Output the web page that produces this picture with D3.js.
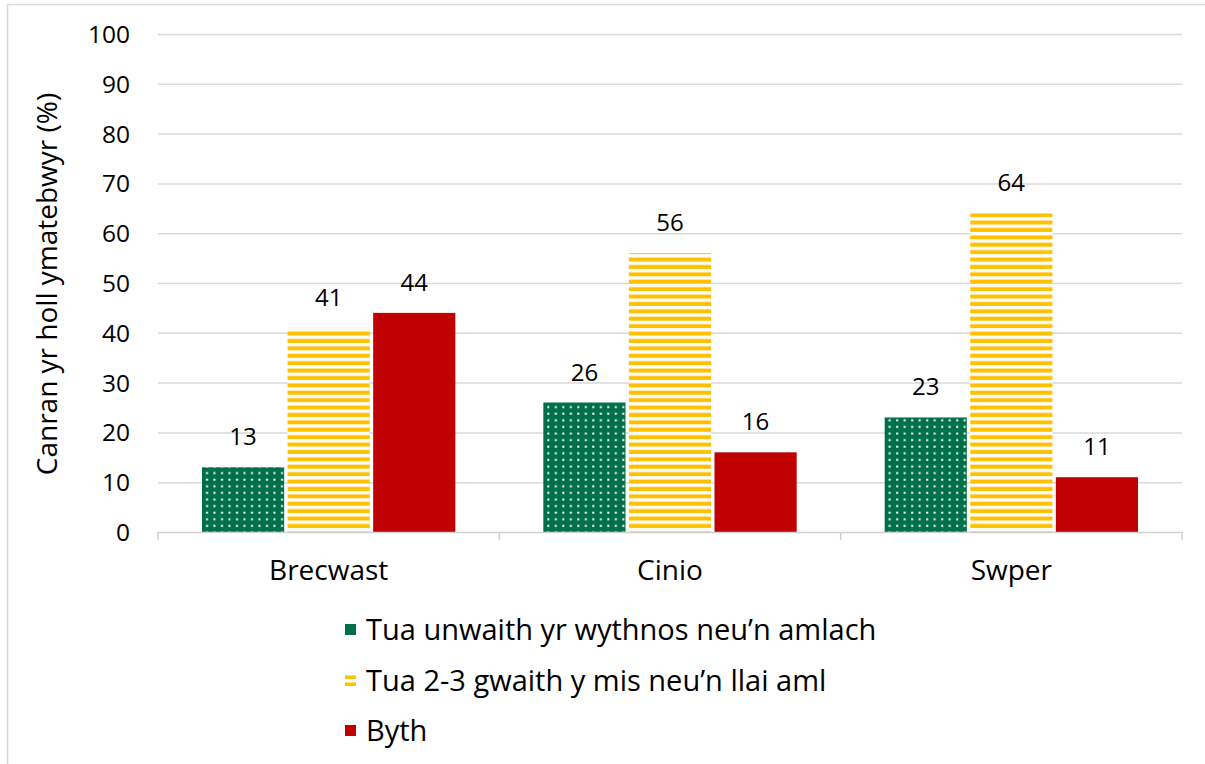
<!DOCTYPE html>
<html>
<head>
<meta charset="utf-8">
<script src="https://cdn.jsdelivr.net/npm/d3@7"></script>
<style>
  body { margin: 0; background: #fff; }
  text { font-family: "Open Sans", "Noto Sans", sans-serif; fill: #000; }
</style>
</head>
<body>
<div id="chart"></div>
<script>
// Data
const categories = ['Brecwast', 'Cinio', 'Swper'];
const seriesNames = [
    'Tua unwaith yr wythnos neu\u2019n amlach',
    'Tua 2-3 gwaith y mis neu\u2019n llai aml',
    'Byth'
];
const weekly = [13, 26, 23];
const monthly = [41, 56, 64];
const never = [44, 16, 11];
const yTicks = [0, 10, 20, 30, 40, 50, 60, 70, 80, 90, 100];

const seriesValues = [weekly, monthly, never];
const colors = ['#00704a', '#ffc000', '#c00000'];

const W = 1205, H = 764;
const margin = { top: 34, right: 23, bottom: 232, left: 158 };
const width = W - margin.left - margin.right;
const height = H - margin.top - margin.bottom;

const root = d3.select('#chart')
    .append('svg')
    .attr('width', W)
    .attr('height', H);

// Patterns
const defs = root.append('defs');
const dots = defs.append('pattern')
    .attr('id', 'dots')
    .attr('patternUnits', 'userSpaceOnUse')
    .attr('width', 7.5)
    .attr('height', 6.6);
dots.append('rect').attr('width', 7.5).attr('height', 6.6).attr('fill', colors[0]);
dots.append('rect').attr('x', 3).attr('y', 2.5).attr('width', 2).attr('height', 2).attr('fill', '#fff');

const stripes = defs.append('pattern')
    .attr('id', 'stripes')
    .attr('patternUnits', 'userSpaceOnUse')
    .attr('width', 8)
    .attr('height', 7.4);
stripes.append('rect').attr('width', 8).attr('height', 7.4).attr('fill', '#fff');
stripes.append('rect').attr('y', 1.5).attr('width', 8).attr('height', 4).attr('fill', colors[1]);

const fills = ['url(#dots)', 'url(#stripes)', colors[2]];

// Outer border
root.append('rect')
    .attr('x', 7.5).attr('y', 4.5)
    .attr('width', W + 10).attr('height', H + 10)
    .attr('fill', 'none')
    .attr('stroke', '#d9d9d9')
    .attr('stroke-width', 1.5);

const svg = root.append('g')
    .attr('transform', `translate(${margin.left},${margin.top})`);

// Scales
const x0 = d3.scaleBand()
    .domain(categories)
    .range([0, width])
    .paddingInner(0)
    .paddingOuter(0);

const x1 = d3.scaleBand()
    .domain(d3.range(seriesNames.length))
    .range([44, x0.bandwidth() - 44])
    .paddingInner(0.04);

const yScale = d3.scaleLinear()
    .domain([0, 100])
    .range([height, 0]);

// Gridlines
svg.append('g')
    .attr('class', 'grid')
    .call(d3.axisLeft(yScale)
        .tickValues(yTicks.slice(1))
        .tickSize(-width)
        .tickFormat(''))
    .call(g => g.select('.domain').remove())
    .call(g => g.selectAll('line').attr('stroke', '#d9d9d9').attr('stroke-width', 1.5));

// Y axis labels
svg.append('g')
    .attr('class', 'y-axis')
    .call(d3.axisLeft(yScale).tickValues(yTicks).tickSize(0).tickPadding(28))
    .call(g => g.select('.domain').remove())
    .call(g => g.selectAll('text')
        .style('font-size', '24.5px')
        .attr('dy', '0.35em'));

// Bars
categories.forEach((cat, ci) => {
    const g = svg.append('g')
        .attr('transform', `translate(${x0(cat)},0)`);
    seriesValues.forEach((vals, si) => {
        const v = vals[ci];
        g.append('rect')
            .attr('x', x1(si))
            .attr('y', yScale(v))
            .attr('width', x1.bandwidth())
            .attr('height', height - yScale(v))
            .attr('fill', fills[si]);
        g.append('text')
            .attr('x', x1(si) + x1.bandwidth() / 2)
            .attr('y', yScale(v) - 22)
            .attr('text-anchor', 'middle')
            .style('font-size', '24px')
            .text(v);
    });
});

// X axis
svg.append('g')
    .attr('class', 'x-axis')
    .attr('transform', `translate(0,${height})`)
    .call(d3.axisBottom(x0).tickSize(0).tickPadding(28))
    .call(g => g.select('.domain').attr('stroke', '#d0d0d0').attr('stroke-width', 1.5))
    .call(g => g.selectAll('text').style('font-size', '28px'));

// Category boundary ticks
svg.append('g')
    .selectAll('line')
    .data(d3.range(categories.length + 1))
    .enter()
    .append('line')
    .attr('x1', i => i * x0.step())
    .attr('x2', i => i * x0.step())
    .attr('y1', height)
    .attr('y2', height + 8)
    .attr('stroke', '#d0d0d0')
    .attr('stroke-width', 1.5);

// Y axis title
root.append('text')
    .attr('transform', `translate(57,284) rotate(-90)`)
    .attr('text-anchor', 'middle')
    .style('font-size', '28px')
    .text('Canran yr holl ymatebwyr (%)');

// Legend
const legend = root.append('g')
    .attr('transform', 'translate(345,630)');

seriesNames.forEach((name, i) => {
    const lg = legend.append('g')
        .attr('transform', `translate(0,${i * 50.5})`);
    if (i === 1) {
        lg.append('rect').attr('x', 0).attr('y', -5).attr('width', 11).attr('height', 3.5).attr('fill', colors[1]);
        lg.append('rect').attr('x', 0).attr('y', 2).attr('width', 11).attr('height', 3.5).attr('fill', colors[1]);
    } else {
        lg.append('rect')
            .attr('x', 0).attr('y', -6)
            .attr('width', 11).attr('height', 11)
            .attr('fill', colors[i]);
    }
    lg.append('text')
        .attr('x', 21)
        .attr('y', 0)
        .attr('dy', '0.35em')
        .style('font-size', '29px')
        .text(name);
});
</script>
</body>
</html>
